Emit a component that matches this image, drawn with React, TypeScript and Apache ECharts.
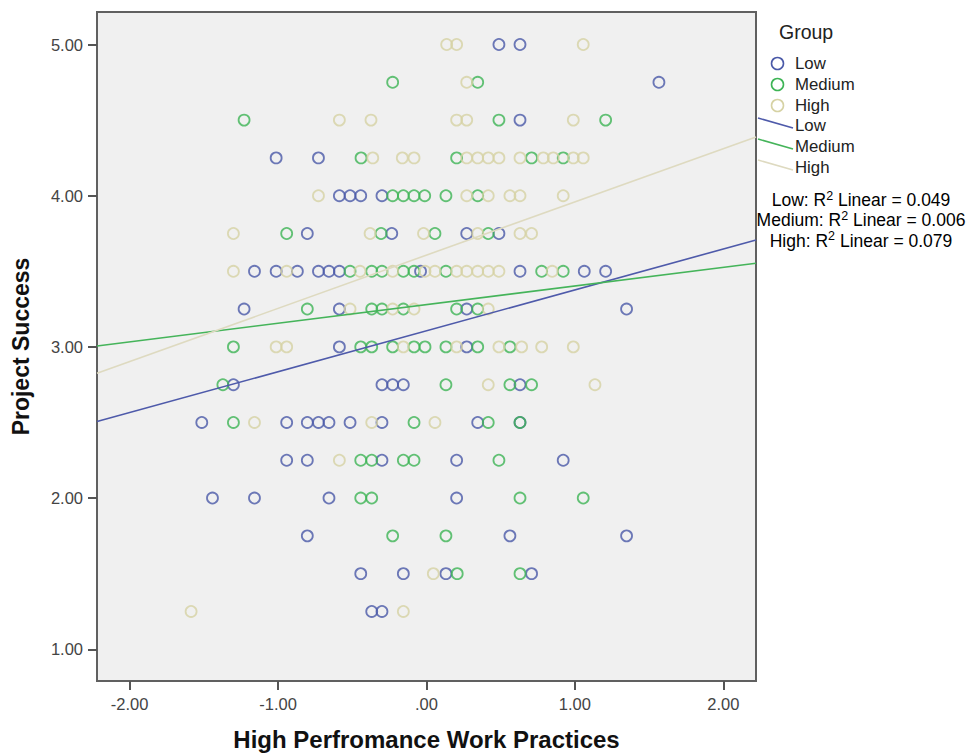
import React, { useEffect, useRef } from "react";
import * as echarts from "echarts";

// ---- data ----
const groups = ["Low", "Medium", "High"];

const lowPoints: number[][] = [
  [0.488, 5.0], [0.63, 5.0],
  [1.566, 4.75],
  [0.63, 4.5],
  [-1.013, 4.25], [-0.728, 4.25],
  [-0.587, 4.0], [-0.515, 4.0], [-0.443, 4.0], [-0.3, 4.0],
  [-0.803, 3.75], [-0.234, 3.75], [0.271, 3.75], [0.488, 3.75],
  [-1.159, 3.5], [-1.013, 3.5], [-0.87, 3.5], [-0.728, 3.5], [-0.657, 3.5], [-0.587, 3.5], [-0.04, 3.5], [0.63, 3.5], [1.063, 3.5], [1.207, 3.5],
  [-1.229, 3.25], [-0.587, 3.25], [0.271, 3.25], [1.348, 3.25],
  [-0.587, 3.0], [0.271, 3.0],
  [-1.301, 2.75], [-0.3, 2.75], [-0.228, 2.75], [-0.156, 2.75], [0.63, 2.75],
  [-1.514, 2.5], [-0.942, 2.5], [-0.803, 2.5], [-0.728, 2.5], [-0.657, 2.5], [-0.515, 2.5], [-0.3, 2.5], [0.345, 2.5], [0.63, 2.5],
  [-0.942, 2.25], [-0.803, 2.25], [-0.3, 2.25], [0.203, 2.25], [0.921, 2.25],
  [-1.442, 2.0], [-1.159, 2.0], [-0.657, 2.0], [0.203, 2.0],
  [-0.803, 1.75], [0.562, 1.75], [1.348, 1.75],
  [-0.443, 1.5], [-0.156, 1.5], [0.131, 1.5], [0.708, 1.5],
  [-0.369, 1.25], [-0.3, 1.25],
];

const mediumPoints: number[][] = [
  [-0.228, 4.75], [0.345, 4.75],
  [-1.229, 4.5], [0.488, 4.5], [1.207, 4.5],
  [-0.441, 4.25], [0.203, 4.25], [0.708, 4.25], [0.921, 4.25],
  [-0.228, 4.0], [-0.156, 4.0], [-0.084, 4.0], [-0.012, 4.0], [0.131, 4.0], [0.345, 4.0],
  [-0.942, 3.75], [-0.306, 3.75], [0.057, 3.75], [0.416, 3.75],
  [-0.515, 3.5], [-0.369, 3.5], [-0.3, 3.5], [-0.156, 3.5], [-0.084, 3.5], [0.131, 3.5], [0.776, 3.5], [0.921, 3.5],
  [-0.803, 3.25], [-0.369, 3.25], [-0.3, 3.25], [-0.156, 3.25], [0.203, 3.25], [0.345, 3.25],
  [-1.301, 3.0], [-0.443, 3.0], [-0.369, 3.0], [-0.228, 3.0], [-0.084, 3.0], [-0.01, 3.0], [0.131, 3.0], [0.345, 3.0], [0.562, 3.0],
  [-1.372, 2.75], [0.131, 2.75], [0.562, 2.75], [0.708, 2.75],
  [-1.301, 2.5], [-0.084, 2.5], [0.416, 2.5], [0.63, 2.5],
  [-0.443, 2.25], [-0.369, 2.25], [-0.156, 2.25], [-0.084, 2.25], [0.488, 2.25],
  [-0.443, 2.0], [-0.369, 2.0], [0.63, 2.0], [1.056, 2.0],
  [-0.228, 1.75], [0.131, 1.75],
  [0.207, 1.5], [0.63, 1.5],
];

const highPoints: number[][] = [
  [0.136, 5.0], [0.203, 5.0], [1.056, 5.0],
  [0.271, 4.75],
  [-0.587, 4.5], [-0.374, 4.5], [0.203, 4.5], [0.271, 4.5], [0.989, 4.5],
  [-0.362, 4.25], [-0.163, 4.25], [-0.084, 4.25], [0.271, 4.25], [0.345, 4.25], [0.416, 4.25], [0.488, 4.25], [0.63, 4.25], [0.787, 4.25], [0.854, 4.25], [0.989, 4.25], [1.056, 4.25],
  [-0.728, 4.0], [0.271, 4.0], [0.416, 4.0], [0.562, 4.0], [0.63, 4.0], [0.921, 4.0],
  [-1.301, 3.75], [-0.38, 3.75], [-0.02, 3.75], [0.345, 3.75], [0.63, 3.75], [0.708, 3.75],
  [-1.301, 3.5], [-0.942, 3.5], [-0.448, 3.5], [-0.228, 3.5], [-0.01, 3.5], [0.057, 3.5], [0.203, 3.5], [0.271, 3.5], [0.345, 3.5], [0.416, 3.5], [0.488, 3.5], [0.847, 3.5],
  [-0.515, 3.25], [-0.228, 3.25], [-0.084, 3.25], [0.416, 3.25],
  [-1.013, 3.0], [-0.942, 3.0], [-0.156, 3.0], [0.203, 3.0], [0.488, 3.0], [0.641, 3.0], [0.776, 3.0], [0.989, 3.0],
  [0.416, 2.75], [1.135, 2.75],
  [-1.159, 2.5], [-0.369, 2.5], [0.057, 2.5],
  [-0.587, 2.25],
  [0.046, 1.5],
  [-1.586, 1.25], [-0.156, 1.25],
];

// fit lines (endpoints at the plot edges)
const lowFit: number[][] = [[-2.22, 2.506], [2.22, 3.707]];
const mediumFit: number[][] = [[-2.22, 3.006], [2.22, 3.553]];
const highFit: number[][] = [[-2.22, 2.825], [2.22, 4.389]];

const r2Values = ["0.049", "0.006", "0.079"];

const xTicks = [-2, -1, 0, 1, 2];
const xTickLabels = ["-2.00", "-1.00", ".00", "1.00", "2.00"];
const yTicks = [1, 2, 3, 4, 5];
const yTickLabels = ["1.00", "2.00", "3.00", "4.00", "5.00"];

const colors = ["#4a59a8", "#3db455", "#d6d2a4"];
const lineColors = ["#4e5aaa", "#45b45a", "#dedac0"];

const FONT = "'Liberation Sans', Arial, sans-serif";

export default function App() {
  const ref = useRef<HTMLDivElement>(null);

  useEffect(() => {
    if (!ref.current) return;
    const chart = echarts.init(ref.current, undefined, { renderer: "svg" });

    const pointSets = [lowPoints, mediumPoints, highPoints];
    const fits = [lowFit, mediumFit, highFit];

    const scatterSeries = groups.map((g, i) => ({
      name: g,
      type: "scatter",
      data: pointSets[i],
      symbol: "circle",
      symbolSize: 11,
      itemStyle: {
        color: "rgba(0,0,0,0)",
        borderColor: colors[i],
        borderWidth: 1.8,
      },
      emphasis: { disabled: true },
      z: 2,
    }));

    const lineSeries = groups.map((g, i) => ({
      name: g + " fit",
      type: "line",
      data: fits[i],
      symbol: "none",
      lineStyle: { color: lineColors[i], width: 1.6 },
      silent: true,
      z: 3,
    }));

    const legendTexts: any[] = [];
    legendTexts.push({
      type: "text",
      left: 779,
      top: 22,
      style: { text: "Group", font: `19.5px ${FONT}`, fill: "#222" },
    });
    const circleY = [63.5, 84.5, 105.5];
    groups.forEach((g, i) => {
      legendTexts.push({
        type: "circle",
        shape: { cx: 777.5, cy: circleY[i], r: 6 },
        style: { fill: "none", stroke: colors[i], lineWidth: 1.6 },
      });
      legendTexts.push({
        type: "text",
        x: 795,
        y: circleY[i],
        style: { text: g, font: `16.8px ${FONT}`, fill: "#222", textVerticalAlign: "middle" },
      });
    });
    const lineY = [125, 146, 167];
    groups.forEach((g, i) => {
      legendTexts.push({
        type: "line",
        shape: { x1: 758, y1: lineY[i] - 7, x2: 793, y2: lineY[i] + 3 },
        style: { stroke: lineColors[i], lineWidth: 1.6 },
      });
      legendTexts.push({
        type: "text",
        x: 795,
        y: lineY[i],
        style: { text: g, font: `16.8px ${FONT}`, fill: "#222", textVerticalAlign: "middle" },
      });
    });
    const r2Y = [199, 219, 239.5];
    groups.forEach((g, i) => {
      legendTexts.push({
        type: "text",
        x: 861,
        y: r2Y[i],
        style: {
          text: `{a|${g}: R}{s|2}{a| Linear = ${r2Values[i]}}`,
          align: "center",
          verticalAlign: "middle",
          rich: {
            a: { fontSize: 17.5, fontFamily: FONT, color: "#222", lineHeight: 20, verticalAlign: "bottom" },
            s: { fontSize: 12.5, fontFamily: FONT, color: "#222", lineHeight: 20, verticalAlign: "top" },
          },
        },
      });
    });

    chart.setOption({
      animation: false,
      backgroundColor: "#ffffff",
      textStyle: { fontFamily: FONT },
      grid: {
        left: 97,
        top: 12,
        width: 659,
        height: 669,
        show: true,
        backgroundColor: "#f0f0f0",
        borderColor: "#606060",
        borderWidth: 2,
      },
      xAxis: {
        type: "value",
        min: -2.22,
        max: 2.22,
        axisLine: { show: false, onZero: false },
        splitLine: { show: false },
        axisTick: {
          show: true,
          length: 9,
          customValues: xTicks,
          lineStyle: { color: "#555", width: 2 },
        },
        axisLabel: {
          customValues: xTicks,
          formatter: (v: number) => xTickLabels[xTicks.indexOf(Math.round(v))] ?? "",
          fontSize: 16.5,
          color: "#444",
          margin: 14,
          fontFamily: FONT,
        },
        name: "High Perfromance Work Practices",
        nameLocation: "middle",
        nameGap: 46,
        nameTextStyle: { fontSize: 24, fontWeight: "bold", color: "#111", fontFamily: FONT },
      },
      yAxis: {
        type: "value",
        min: 0.79,
        max: 5.215,
        axisLine: { show: false, onZero: false },
        splitLine: { show: false },
        axisTick: {
          show: true,
          length: 9,
          customValues: yTicks,
          lineStyle: { color: "#555", width: 2 },
        },
        axisLabel: {
          customValues: yTicks,
          formatter: (v: number) => yTickLabels[yTicks.indexOf(Math.round(v))] ?? "",
          fontSize: 16.5,
          color: "#444",
          margin: 14,
          fontFamily: FONT,
        },
        name: "Project Success",
        nameLocation: "middle",
        nameRotate: 90,
        nameGap: 65,
        nameTextStyle: { fontSize: 23, fontWeight: "bold", color: "#111", fontFamily: FONT },
      },
      series: [...scatterSeries, ...lineSeries],
      graphic: legendTexts,
    });

    return () => chart.dispose();
  }, []);

  return (
    <div
      ref={ref}
      style={{ position: "absolute", left: 0, top: 0, width: 966, height: 756 }}
    />
  );
}
